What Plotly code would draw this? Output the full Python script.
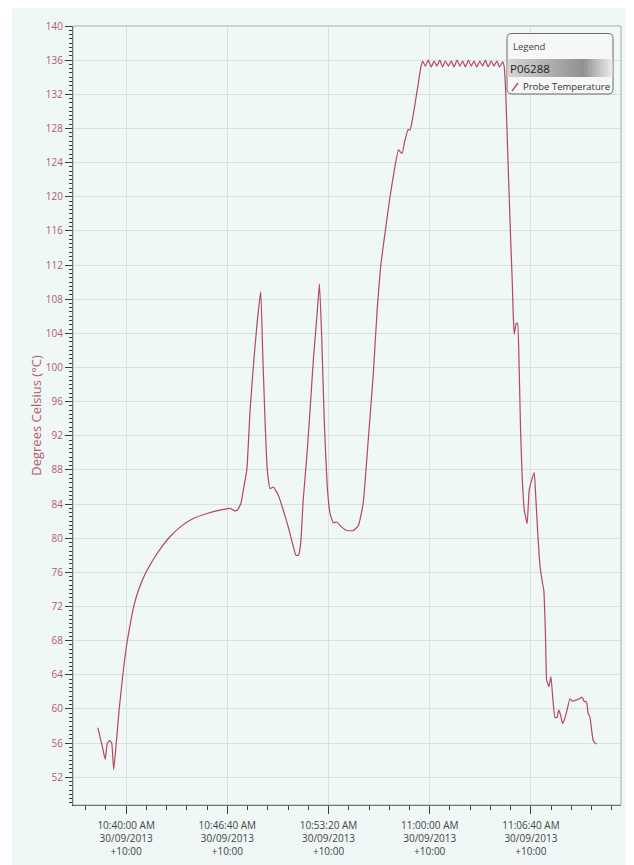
import pandas as pd
import plotly.graph_objects as go

# ---------------- data ----------------
log_start = "2013-09-30 10:38:08"
series_name = "Probe Temperature"
logger_id = "P06288"

elapsed_s = [0, 6, 12, 18, 29, 38, 47, 55, 63, 75,
             84, 95, 104, 115, 128, 139, 151, 167, 187, 207,
             230, 258, 286, 325, 377, 432, 483, 523,
             541, 552, 566, 575, 589, 602,
             618, 632, 644, 652, 661, 670, 681, 694, 714, 733,
             753, 773, 783, 793, 802, 812, 826, 839, 852, 865,
             876, 885, 895, 907, 918, 931, 944, 964, 984, 1010,
             1030, 1049, 1069, 1089, 1105, 1118, 1135, 1155, 1172, 1188,
             1194, 1203, 1214, 1227, 1234, 1241, 1254, 1267, 1277,
             1284, 1295, 1306, 1318, 1329, 1340, 1352, 1363, 1374, 1386,
             1397, 1408, 1420, 1431, 1442, 1453, 1465, 1476, 1487, 1498,
             1510, 1521, 1532, 1543, 1555, 1566, 1577, 1588, 1600,
             1606, 1612, 1623, 1632, 1638, 1642, 1646, 1653, 1659, 1665,
             1671, 1678, 1686, 1697, 1705, 1715, 1725, 1731, 1739, 1748,
             1758, 1763, 1769, 1774, 1778, 1783, 1791, 1798, 1807, 1815,
             1822, 1829, 1837, 1846, 1855, 1866, 1876, 1885, 1895, 1905,
             1914, 1922, 1932, 1938, 1945, 1952, 1958, 1965, 1973]

temps_c = [57.8, 57.1, 56.3, 55.6, 54.1, 56.0, 56.3, 56.0, 52.9, 56.7,
           59.8, 62.9, 65.3, 67.7, 69.9, 71.6, 73.0, 74.4, 75.8, 76.9,
           78.0, 79.2, 80.2, 81.3, 82.3, 82.9, 83.3, 83.5,
           83.2, 83.3, 84.1, 85.6, 88.0, 95.0,
           101.3, 105.9, 108.9, 101.6, 93.8, 88.0, 85.8, 86.0, 85.0, 83.3,
           81.3, 79.0, 78.0, 78.0, 79.4, 84.5, 89.5, 95.0, 100.9, 105.6,
           109.8, 103.6, 93.8, 86.0, 82.9, 81.8, 81.9, 81.3, 80.9, 80.9,
           81.5, 84.1, 91.5, 99.3, 107.1, 111.8, 115.7, 120.0, 123.1, 125.5,
           125.3, 125.1, 126.6, 127.9, 127.8, 128.6, 130.9, 133.3, 135.2,
           135.9, 135.3, 136.0, 135.2, 135.9, 135.3, 136.0, 135.2, 135.9, 135.3,
           135.9, 135.2, 136.0, 135.3, 135.9, 135.2, 136.0, 135.3, 135.9, 135.2,
           135.9, 135.3, 136.0, 135.2, 135.9, 135.3, 135.9, 135.2, 135.8,
           135.3, 132.5, 122.7, 114.9, 110.2, 106.3, 103.9, 105.1, 105.2, 100.5,
           92.7, 86.8, 83.3, 81.7, 85.6, 86.8, 87.7, 84.9, 80.6, 76.7,
           74.7, 73.9, 69.2, 63.4, 63.0, 62.6, 63.8, 61.4, 59.0, 59.0,
           59.9, 59.3, 58.3, 58.9, 59.9, 61.2, 60.9, 61.0, 61.1, 61.2,
           61.4, 60.9, 60.8, 59.5, 59.1, 57.5, 56.3, 56.0, 55.9]

x_tick_vals = ["2013-09-30 10:40:00", "2013-09-30 10:46:40", "2013-09-30 10:53:20",
               "2013-09-30 11:00:00", "2013-09-30 11:06:40"]
x_tick_text = ["10:40:00 AM<br>30/09/2013<br>+10:00", "10:46:40 AM<br>30/09/2013<br>+10:00",
               "10:53:20 AM<br>30/09/2013<br>+10:00", "11:00:00 AM<br>30/09/2013<br>+10:00",
               "11:06:40 AM<br>30/09/2013<br>+10:00"]
x_range = ["2013-09-30 10:36:30", "2013-09-30 11:12:36"]
y_range = [48.75, 140]

assert len(elapsed_s) == len(temps_c)
times = pd.Timestamp(log_start) + pd.to_timedelta(elapsed_s, unit="s")

# ---------------- style ----------------
OFF = 8                       # page body margin of the html page
W, H = 634 - OFF, 865 - OFF
PL, PR, PT, PB = 73, 621, 26, 805   # plot area in page pixels
ML, MR, MT, MB = PL - OFF, 634 - PR, PT - OFF, 865 - PB
PW, PH = PR - PL, PB - PT
BG = "#eff7f7"
LINE = "#b5475f"
ROSE = "#b35a6f"
GRID = "#d9e0e0"
FONT = "Open Sans"


def px(x):
    return (x - PL) / PW


def py(y):
    return 1 - (y - PT) / PH


fig = go.Figure()
fig.add_trace(go.Scatter(x=times, y=temps_c, mode="lines", name=series_name,
                         line=dict(color=LINE, width=1.2, shape="spline", smoothing=0.4),
                         showlegend=False))

shapes = []
shapes.append(dict(type="rect", xref="paper", yref="paper", layer="below",
                   x0=px(12), x1=px(640), y0=py(870), y1=py(4),
                   fillcolor=BG, line=dict(width=0)))
shapes.append(dict(type="rect", xref="paper", yref="paper", layer="above",
                   x0=0, x1=1, y0=0, y1=1, line=dict(color="#a9aeae", width=1)))

lx0, lx1, ly0, ly1, r = 507, 613, 33.5, 94, 5


def rrect(x0, y0, x1, y1, r):
    return (f"M {px(x0 + r)},{py(y0)} L {px(x1 - r)},{py(y0)} "
            f"Q {px(x1)},{py(y0)} {px(x1)},{py(y0 + r)} "
            f"L {px(x1)},{py(y1 - r)} Q {px(x1)},{py(y1)} {px(x1 - r)},{py(y1)} "
            f"L {px(x0 + r)},{py(y1)} Q {px(x0)},{py(y1)} {px(x0)},{py(y1 - r)} "
            f"L {px(x0)},{py(y0 + r)} Q {px(x0)},{py(y0)} {px(x0 + r)},{py(y0)} Z")


shapes.append(dict(type="path", xref="paper", yref="paper", layer="above",
                   path=rrect(lx0, ly0, lx1, ly1, r), fillcolor="#f6f7f7",
                   line=dict(color="#6b6b6b", width=1)))
band_y0, band_y1 = 59, 77
stops = [(0.0, (214, 214, 214)), (0.72, (145, 145, 145)), (1.0, (238, 238, 238))]


def grad(t):
    for (a, ca), (b, cb) in zip(stops[:-1], stops[1:]):
        if a <= t <= b:
            f = (t - a) / (b - a)
            return "rgb(%d,%d,%d)" % tuple(int(ca[i] + (cb[i] - ca[i]) * f) for i in range(3))
    return "rgb(238,238,238)"


nstep = 26
bx0, bx1 = lx0 + 0.5, lx1 - 0.5
for i in range(nstep):
    xa = bx0 + (bx1 - bx0) * i / nstep
    xb = bx0 + (bx1 - bx0) * (i + 1) / nstep
    shapes.append(dict(type="rect", xref="paper", yref="paper", layer="above",
                       x0=px(xa), x1=px(min(xb + 1.0, bx1)), y0=py(band_y1), y1=py(band_y0),
                       fillcolor=grad((i + 0.5) / nstep), line=dict(width=0)))
shapes.append(dict(type="line", xref="paper", yref="paper", layer="above",
                   x0=px(512), y0=py(91), x1=px(518), y1=py(83),
                   line=dict(color=LINE, width=1.3)))

annotations = [
    dict(text="Legend", xref="paper", yref="paper", x=px(511), y=py(46.5),
         xanchor="left", yanchor="middle", showarrow=False,
         font=dict(family=FONT, size=9.5, color="#444444")),
    dict(text=logger_id, xref="paper", yref="paper", x=px(507.5), y=py(68),
         xanchor="left", yanchor="middle", showarrow=False,
         font=dict(family=FONT, size=11.5, color="#222222")),
    dict(text=series_name, xref="paper", yref="paper", x=px(520.5), y=py(86.5),
         xanchor="left", yanchor="middle", showarrow=False,
         font=dict(family=FONT, size=9.5, color="#333333")),
]

fig.update_layout(
    width=W, height=H,
    margin=dict(l=ML, r=MR, t=MT, b=MB, pad=0, autoexpand=False),
    paper_bgcolor="white", plot_bgcolor=BG,
    font=dict(family=FONT, size=10, color="#444444"),
    showlegend=False,
    shapes=shapes, annotations=annotations,
    xaxis=dict(type="date", range=x_range, tickmode="array", automargin=False,
               tickvals=x_tick_vals, ticktext=x_tick_text,
               showgrid=True, gridcolor=GRID, gridwidth=1, zeroline=False,
               showline=True, linecolor="#3a3a3a", linewidth=1,
               ticks="outside", ticklen=8, tickcolor="#3a3a3a", tickwidth=1,
               ticklabelstandoff=3,
               tickfont=dict(family=FONT, size=10, color="#444444"),
               minor=dict(dtick=80000, tick0="2013-09-30 10:40:00", ticks="outside",
                          ticklen=4, tickcolor="#3a3a3a", showgrid=False)),
    yaxis=dict(range=y_range, tickmode="linear", tick0=0, dtick=4, automargin=False,
               showgrid=True, gridcolor=GRID, gridwidth=1, zeroline=False,
               showline=True, linecolor="#3a3a3a", linewidth=1,
               ticks="outside", ticklen=7, tickcolor="#3a3a3a", tickwidth=1,
               tickfont=dict(family=FONT, size=10, color=ROSE),
               title=dict(text="Degrees Celsius (°C)", standoff=1,
                          font=dict(family=FONT, size=13, color=ROSE)),
               minor=dict(dtick=0.5, tick0=0, ticks="outside", ticklen=3,
                          tickcolor="#3a3a3a", showgrid=False)),
)

fig.write_html("out.html")
